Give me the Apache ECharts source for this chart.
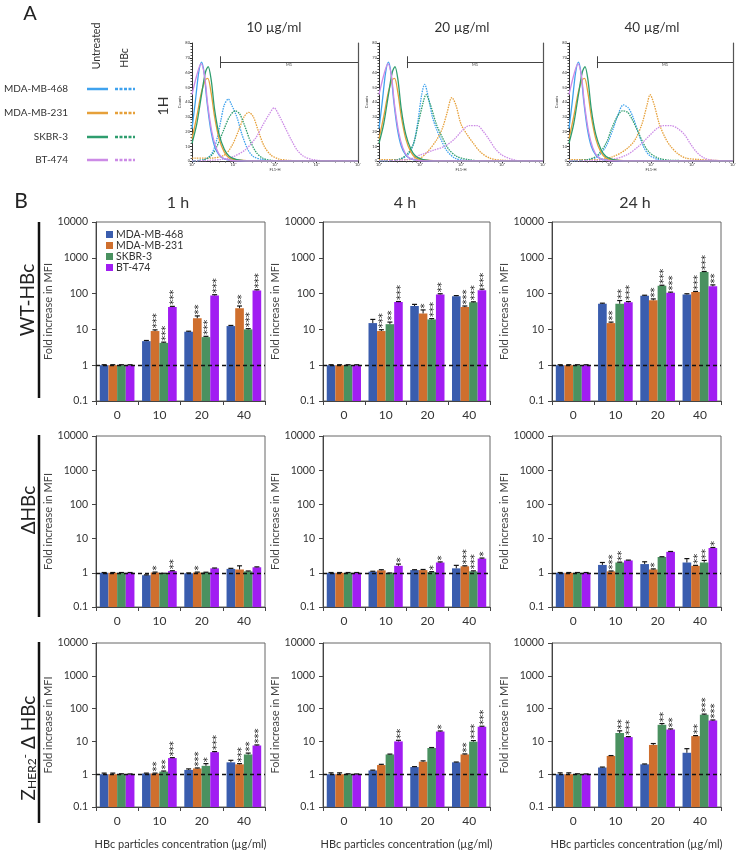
<!DOCTYPE html>
<html><head><meta charset="utf-8">
<script src="https://cdn.jsdelivr.net/npm/echarts@6/dist/echarts.min.js"></script>
<style>html,body{margin:0;padding:0;background:#fff}#c{width:743px;height:851px}</style>
</head><body><div id="c"></div>
<script>
// ---------- shared labels ----------
const cellLines = ['MDA-MB-468', 'MDA-MB-231', 'SKBR-3', 'BT-474'];
const concentrations = ['0', '10', '20', '40'];
const timePoints = ['1 h', '4 h', '24 h'];
const histTitles = ['10 µg/ml', '20 µg/ml', '40 µg/ml'];
const xAxisTitle = 'HBc particles concentration (µg/ml)';
const yAxisTitle = 'Fold increase in MFI';

// ---------- Panel A: flow cytometry histograms [FL1-H, counts] ----------
const untreated468 = [[1,22],[1.2,40],[1.45,60],[1.7,67],[1.95,60],[2.3,40],[2.8,22],[3.5,10],[4.5,4],[6,1.5],[9,0.5],[20,0],[10000,0]];
const untreated231 = [[1,15],[1.3,30],[1.7,47],[2.1,55],[2.4,56],[2.9,46],[3.5,30],[4.5,15],[6,6],[8,2],[15,0.5],[30,0],[10000,0]];
const untreatedSK  = [[1,12],[1.3,25],[1.7,45],[2.1,60],[2.45,64],[2.9,55],[3.5,35],[4.5,18],[6,8],[8,3],[12,1],[25,0],[10000,0]];
const untreatedBT  = [[1,45],[1.3,58],[1.65,66],[2,58],[2.4,38],[3,20],[3.8,9],[5,3],[7,1],[12,0],[10000,0]];

const hbc10_468 = [[1,0],[2,1],[3,5],[4,15],[5,28],[6,38],[7.5,42],[9,38],[12,30],[16,18],[22,8],[30,3],[50,1],[100,0],[10000,0]];
const hbc10_231 = [[1,2],[3,2],[6,4],[9,10],[13,20],[18,30],[23,33],[30,30],[40,20],[55,10],[80,4],[120,1.5],[200,0.5],[400,0],[10000,0]];
const hbc10_SK  = [[1,0],[2,1],[3,4],[4,10],[6,22],[8,30],[11,34],[14,32],[18,25],[25,14],[35,6],[50,2],[80,0.5],[150,0],[10000,0]];
const hbc10_BT  = [[1,0],[5,1],[10,3],[20,8],[35,16],[50,24],[70,31],[95,36],[130,30],[180,22],[250,14],[350,7],[500,3],[800,1],[2000,0],[10000,0]];

const hbc20_468 = [[1,0],[3,1],[5,4],[7,12],[9,28],[11,45],[13,52],[16,43],[20,30],[25,22],[32,15],[45,7],[70,2],[120,0.5],[300,0],[10000,0]];
const hbc20_231 = [[1,1],[5,1],[10,2],[15,6],[25,14],[35,22],[45,32],[60,43],[75,38],[100,25],[140,18],[200,12],[300,6],[500,2],[1000,0.5],[10000,0]];
const hbc20_SK  = [[1,0],[3,1],[5,5],[7,12],[9,25],[12,40],[14,45],[18,38],[25,25],[35,16],[50,8],[80,3],[150,1],[300,0],[10000,0]];
const hbc20_BT  = [[1,0],[5,1],[10,4],[20,7],[40,10],[70,15],[110,21],[160,24],[250,24],[350,20],[500,14],[700,8],[1000,4],[1600,1.5],[3000,0],[10000,0]];

const hbc40_468 = [[1,0],[3,1],[5,3],[8,10],[12,22],[16,32],[21,38],[28,36],[36,30],[48,20],[65,10],[90,4],[150,1],[300,0],[10000,0]];
const hbc40_231 = [[1,1],[5,1],[12,3],[25,8],[40,14],[60,25],[80,38],[95,45],[120,38],[160,25],[220,16],[300,10],[450,5],[700,2],[1500,1],[3000,0.5],[10000,0]];
const hbc40_SK  = [[1,0],[3,1],[5,4],[8,12],[11,22],[15,30],[20,34],[27,33],[35,28],[48,20],[65,12],[90,6],[150,2],[300,0.5],[10000,0]];
const hbc40_BT  = [[1,0],[10,1],[25,4],[50,10],[90,17],[140,22],[200,24],[300,24],[450,22],[650,18],[900,12],[1300,6],[2000,2],[3500,0.5],[10000,0]];

const gateM1 = [4.8, 10000];
const gateLevel = 67;
const histXTicks = ['10⁰','10¹','10²','10³','10⁴'];

// ---------- Panel B: fold increase in MFI (rows: 468, 231, SKBR-3, BT-474) ----------
const wt1h_values  = [[1,4.7,8.6,12.4],[1,9,20.5,39],[1,4.2,6.1,10],[1,42,89,123]];
const wt1h_errors  = [[0.03,0.2,0.3,0.5],[0.03,0.7,3.3,6],[0.03,0.2,0.3,0.5],[0.03,2,4,5]];
const wt1h_stars   = [['','','',''],['','***','**','**'],['','***','***','***'],['','***','***','***']];

const wt4h_values  = [[1,15,45,85],[1,9,28,42],[1,14,19,57],[1,58,95,125]];
const wt4h_errors  = [[0.03,4,5,3],[0.03,0.8,7,3],[0.03,2,1,2],[0.03,2,4,8]];
const wt4h_stars   = [['','','',''],['','***','*','***'],['','**','***','***'],['','***','**','***']];

const wt24h_values = [[1,52,87,95],[1,15,65,110],[1,52,165,400],[1,57,105,160]];
const wt24h_errors = [[0.03,2,3,4],[0.03,1,6,5],[0.03,12,6,15],[0.03,3,5,15]];
const wt24h_stars  = [['','','',''],['','**','**','***'],['','**','***','***'],['','***','***','**']];

const d1h_values   = [[1,0.85,0.97,1.3],[1,1.02,1.02,1.25],[1,0.95,1.02,1.1],[1,1.12,1.35,1.45]];
const d1h_errors   = [[0.02,0.02,0.02,0.05],[0.02,0.03,0.03,0.35],[0.02,0.02,0.02,0.03],[0.02,0.03,0.03,0.04]];
const d1h_stars    = [['','','',''],['','*','*',''],['','','',''],['','**','','']];

const d4h_values   = [[1,1.08,1.2,1.35],[1,1.18,1.2,1.55],[1,0.97,1.05,1.1],[1,1.6,2.0,2.6]];
const d4h_errors   = [[0.02,0.03,0.03,0.3],[0.02,0.05,0.05,0.05],[0.02,0.02,0.03,0.04],[0.02,0.2,0.08,0.1]];
const d4h_stars    = [['','','',''],['','','','***'],['','','*','***'],['','*','*','*']];

const d24h_values  = [[1,1.7,1.8,2.0],[1,1.1,1.25,1.6],[1,2.0,2.9,2.0],[1,2.3,4.1,5.3]];
const d24h_errors  = [[0.02,0.3,0.3,0.6],[0.02,0.03,0.05,0.05],[0.02,0.05,0.05,0.3],[0.02,0.05,0.1,0.2]];
const d24h_stars   = [['','','',''],['','***','*','**'],['','**','','**'],['','','','*']];

const z1h_values   = [[1,1.05,1.35,2.3],[1,1.05,1.5,2.0],[1,1.2,1.8,4.0],[1,3.1,4.7,7.5]];
const z1h_errors   = [[0.08,0.03,0.1,0.35],[0.08,0.03,0.05,0.1],[0.03,0.05,0.3,0.4],[0.02,0.1,0.2,0.3]];
const z1h_stars    = [['','','',''],['','**','***','***'],['','**','*','**'],['','***','***','***']];

const z4h_values   = [[1,1.3,1.65,2.3],[1,1.9,2.4,4.0],[1,4.0,6.3,9.8],[1,10,20,28]];
const z4h_errors   = [[0.1,0.03,0.05,0.05],[0.1,0.1,0.15,0.15],[0.03,0.1,0.2,0.8],[0.02,0.8,0.8,1]];
const z4h_stars    = [['','','',''],['','','','**'],['','','','***'],['','**','*','***']];

const z24h_values  = [[1,1.6,2.0,4.5],[1,3.6,7.8,14.5],[1,18,32,65],[1,13.5,23,43]];
const z24h_errors  = [[0.1,0.05,0.05,1.5],[0.1,0.1,0.8,0.5],[0.03,3,3,3],[0.02,0.5,1,2]];
const z24h_stars   = [['','','',''],['','','','**'],['','**','**','***'],['','***','**','***']];

// ---------- styling ----------
const FONT = 'Lato';
const barColors = ['#3A5DAE', '#CF6F2E', '#4A9160', '#A11DF2'];
const histColors = ['#3FA2EE', '#E6A03A', '#2E9D6E', '#CC8BE6'];

const histGrids = [
  {left:192, top:43, width:166, height:118},
  {left:379, top:43, width:164, height:118},
  {left:569, top:43, width:164, height:118}
];
const colL = [96, 323, 552], colW = [169, 167, 169];
const rowT = [222, 436, 643], rowH = [179, 171, 166];

const barPanels = [
  [wt1h_values, wt1h_errors, wt1h_stars],[wt4h_values, wt4h_errors, wt4h_stars],[wt24h_values, wt24h_errors, wt24h_stars],
  [d1h_values, d1h_errors, d1h_stars],[d4h_values, d4h_errors, d4h_stars],[d24h_values, d24h_errors, d24h_stars],
  [z1h_values, z1h_errors, z1h_stars],[z4h_values, z4h_errors, z4h_stars],[z24h_values, z24h_errors, z24h_stars]
];
const untreatedSets = [untreated468, untreated231, untreatedSK, untreatedBT];
const hbcSets = [
  [hbc10_468, hbc10_231, hbc10_SK, hbc10_BT],
  [hbc20_468, hbc20_231, hbc20_SK, hbc20_BT],
  [hbc40_468, hbc40_231, hbc40_SK, hbc40_BT]
];

const grid = [], xAxis = [], yAxis = [], series = [];

// Panel A histograms
histGrids.forEach((g, p) => {
  grid.push(Object.assign({containLabel:false}, g));
  xAxis.push({
    gridIndex: p, type:'log', logBase:10, min:1, max:10000,
    axisLine:{lineStyle:{color:'#333', width:1}},
    axisTick:{length:2, lineStyle:{color:'#333'}},
    minorTick:{show:true, splitNumber:5, length:1.5, lineStyle:{color:'#555'}},
    axisLabel:{fontSize:4, color:'#333', margin:2, formatter:(v)=>histXTicks[Math.round(Math.log10(v))]},
    splitLine:{show:false},
    name:'FL1-H', nameLocation:'middle', nameGap:7, nameTextStyle:{fontSize:4, color:'#333'}
  });
  yAxis.push({
    gridIndex: p, type:'value', min:0, max:80, interval:10,
    axisLine:{show:true, lineStyle:{color:'#333', width:1}},
    axisTick:{show:true, length:2, lineStyle:{color:'#333'}},
    minorTick:{show:true, splitNumber:5, length:1.5, lineStyle:{color:'#555'}},
    axisLabel:{fontSize:4, color:'#333', margin:2},
    splitLine:{show:false},
    name:'Counts', nameLocation:'middle', nameGap:8, nameRotate:90, nameTextStyle:{fontSize:4, color:'#333'}
  });
  const yi = yAxis.length - 1;
  yAxis.push({
    gridIndex: p, type:'value', min:0, max:80, position:'right',
    axisLine:{show:true, lineStyle:{color:'#555', width:1.2}},
    axisTick:{show:false}, axisLabel:{show:false}, splitLine:{show:false}
  });
  for (let k = 0; k < 4; k++) {
    series.push({
      name: 'A-untreated-' + cellLines[k], type:'line', xAxisIndex:p, yAxisIndex:yi,
      data: untreatedSets[k], showSymbol:false, smooth:0.3, silent:true,
      lineStyle:{color:histColors[k], width:1.3}, z:3
    });
  }
  for (let k = 0; k < 4; k++) {
    const s = {
      name: 'A-HBc-' + cellLines[k], type:'line', xAxisIndex:p, yAxisIndex:yi,
      data: hbcSets[p][k], showSymbol:false, smooth:0.3, silent:true,
      lineStyle:{color:histColors[k], width:1.3, type:[1.5,1]}, z:2
    };
    if (k === 0) {
      s.markLine = {
        silent:true, symbol:'none', animation:false,
        lineStyle:{color:'#444', width:1, type:'solid'},
        data:[
          [{coord:[gateM1[0], gateLevel], label:{show:true, formatter:'M1', position:'insideMiddleBottom', fontSize:4, color:'#333', distance:1}},
           {coord:[gateM1[1], gateLevel]}],
          [{coord:[gateM1[0], gateLevel-4], label:{show:false}}, {coord:[gateM1[0], gateLevel+4]}]
        ]
      };
    }
    series.push(s);
  }
});

// Panel B bar charts
function barRenderer(starsRow, k) {
  return function (params, api) {
    const i = api.value(0), v = api.value(1), e = api.value(2);
    const base = api.coord([i, 0.1]);
    const top = api.coord([i, v]);
    const band = api.size([1, 0])[0];
    const bw = band * 0.205;
    const x0 = base[0] - 2 * bw + k * bw;
    const cx = x0 + bw / 2;
    const errTop = api.coord([i, v + e])[1];
    const children = [
      {type:'rect', shape:{x:x0, y:top[1], width:bw, height:base[1] - top[1]}, style:{fill:barColors[k]}},
      {type:'line', shape:{x1:cx, y1:top[1], x2:cx, y2:errTop}, style:{stroke:'#111', lineWidth:1}},
      {type:'line', shape:{x1:cx - 2.5, y1:errTop, x2:cx + 2.5, y2:errTop}, style:{stroke:'#111', lineWidth:1.2}}
    ];
    const st = starsRow[params.dataIndex];
    if (st) {
      children.push({type:'text', x:cx + 2.5, y:errTop - 1.5, rotation:Math.PI / 2,
        style:{text:st, fontSize:10, fontFamily:'DejaVu Sans', fill:'#222', align:'left', verticalAlign:'middle'}});
    }
    return {type:'group', children};
  };
}

barPanels.forEach((panel, idx) => {
  const r = Math.floor(idx / 3), c = idx % 3;
  const gi = grid.length;
  grid.push({left:colL[c], top:rowT[r], width:colW[c], height:rowH[r], show:true,
    borderColor:'#666', borderWidth:1, backgroundColor:'transparent'});
  xAxis.push({
    gridIndex:gi, type:'category', data:concentrations,
    axisLine:{lineStyle:{color:'#444', width:1}},
    axisTick:{show:true, length:4, lineStyle:{color:'#444'}},
    axisLabel:{fontSize:12, color:'#333', margin:8, fontFamily:FONT},
    splitLine:{show:false},
    name: r === 2 ? xAxisTitle : '', nameLocation:'middle', nameGap:32,
    nameTextStyle:{fontSize:11, color:'#333', fontFamily:FONT}
  });
  yAxis.push({
    gridIndex:gi, type:'log', logBase:10, min:0.1, max:10000,
    axisLine:{show:true, lineStyle:{color:'#444', width:1}},
    axisTick:{show:true, length:4, lineStyle:{color:'#444'}},
    axisLabel:{fontSize:10.5, color:'#333', margin:8, fontFamily:FONT, formatter:(v) => String(v)},
    splitLine:{show:false},
    name:yAxisTitle, nameLocation:'middle', nameRotate:90, nameGap:34,
    nameTextStyle:{fontSize:11, color:'#444', fontFamily:FONT}
  });
  const [vals, errs, stars] = panel;
  for (let k = 0; k < 4; k++) {
    const s = {
      name:cellLines[k], type:'custom', xAxisIndex:gi, yAxisIndex:yAxis.length - 1,
      itemStyle:{color:barColors[k]},
      encode:{x:0, y:1},
      data: vals[k].map((v, i) => [i, v, errs[k][i]]),
      renderItem: barRenderer(stars[k], k),
      silent:true, z:2
    };
    if (k === 3) {
      s.markLine = {silent:true, symbol:'none', animation:false, label:{show:false},
        lineStyle:{color:'#111', width:1.3, type:[4,3]}, data:[{yAxis:1}], z:5};
    }
    series.push(s);
  }
});

// text / decorations
const T = (text, x, y, size, opts) => Object.assign({type:'text', x, y,
  style:Object.assign({text, fontSize:size, fontFamily:FONT, fill:'#333', align:'center', verticalAlign:'middle'}, (opts && opts.style) || {})},
  opts && opts.rotation ? {rotation:opts.rotation} : {});
const graphic = [];
graphic.push(T('A', 30, 14, 20, {style:{fill:'#222'}}));
graphic.push(T('B', 21, 201, 21, {style:{fill:'#222'}}));
histTitles.forEach((t, i) => graphic.push(T(t, [274, 462, 652][i], 28, 13.5)));
graphic.push(T('1H', 163, 106, 14, {rotation:Math.PI/2}));
graphic.push(T('Untreated', 97, 46, 10.5, {rotation:Math.PI/2}));
graphic.push(T('HBc', 125, 58, 10.5, {rotation:Math.PI/2}));
[89, 113, 137, 160].forEach((y, k) => {
  graphic.push(T(cellLines[k], 68, y, 10, {style:{align:'right'}}));
  graphic.push({type:'line', shape:{x1:87, y1:y, x2:108, y2:y}, style:{stroke:histColors[k], lineWidth:2.5}});
  graphic.push({type:'line', shape:{x1:115, y1:y, x2:135, y2:y}, style:{stroke:histColors[k], lineWidth:2.5, lineDash:[3,1.5]}});
});
timePoints.forEach((t, i) => graphic.push(T(t, [178, 405, 635][i], 203, 16)));
graphic.push(T('WT-HBc', 28, 300, 19, {rotation:Math.PI/2, style:{fill:'#222'}}));
graphic.push(T('ΔHBc', 29, 510, 19, {rotation:Math.PI/2, style:{fill:'#222'}}));
graphic.push({type:'text', x:29, y:748, rotation:Math.PI/2,
  style:{text:'{a|Z}{s|HER2}{p|-}{a| Δ HBc}', fontFamily:FONT, fill:'#222', align:'center', verticalAlign:'middle',
    rich:{a:{fontSize:19, fontFamily:FONT, fill:'#222'}, s:{fontSize:12, fontFamily:FONT, fill:'#222', verticalAlign:'bottom'}, p:{fontSize:12, fontFamily:FONT, fill:'#222', verticalAlign:'top'}}}});
[[222, 398], [435, 617], [642, 823]].forEach(([y1, y2]) =>
  graphic.push({type:'line', shape:{x1:39, y1, x2:39, y2}, style:{stroke:'#111', lineWidth:2.5}}));

const chart = echarts.init(document.getElementById('c'), null, {renderer:'canvas'});
chart.setOption({
  animation:false,
  backgroundColor:'#fff',
  textStyle:{fontFamily:FONT},
  color:barColors,
  legend:{
    data:cellLines, orient:'vertical', left:101, top:224, icon:'rect',
    itemWidth:7, itemHeight:7, itemGap:0, selectedMode:false,
    textStyle:{fontSize:10.5, color:'#333', fontFamily:FONT, lineHeight:11, padding:[0,0,0,-2]}
  },
  grid, xAxis, yAxis, series, graphic
});
</script></body></html>
